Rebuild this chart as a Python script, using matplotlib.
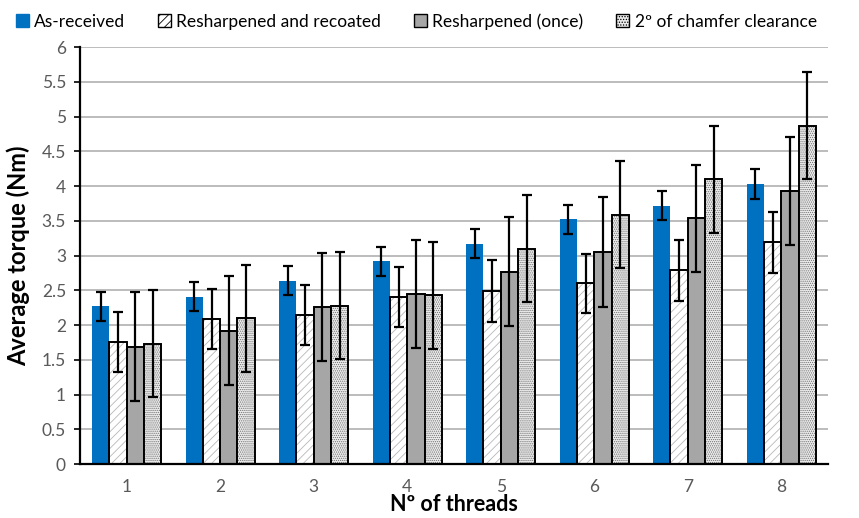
import numpy as np
import matplotlib
matplotlib.use("Agg")
import matplotlib.pyplot as plt
from matplotlib.patches import Patch

# ---- data ----
threads = ["1", "2", "3", "4", "5", "6", "7", "8"]
as_received = [2.27, 2.41, 2.64, 2.92, 3.17, 3.52, 3.72, 4.03]
as_received_err = [0.21, 0.21, 0.21, 0.21, 0.21, 0.21, 0.21, 0.21]
recoated = [1.76, 2.09, 2.15, 2.40, 2.49, 2.60, 2.79, 3.19]
recoated_err = [0.43, 0.43, 0.43, 0.43, 0.44, 0.43, 0.44, 0.44]
once = [1.69, 1.92, 2.26, 2.45, 2.77, 3.05, 3.54, 3.93]
once_err = [0.78, 0.78, 0.78, 0.78, 0.78, 0.79, 0.77, 0.78]
chamfer = [1.73, 2.10, 2.28, 2.43, 3.10, 3.59, 4.10, 4.87]
chamfer_err = [0.77, 0.77, 0.77, 0.77, 0.77, 0.77, 0.77, 0.77]

labels = ["As-received", "Resharpened and recoated", "Resharpened (once)", "2º of chamfer clearance"]

plt.rcParams["font.family"] = ["Lato", "DejaVu Sans"]
plt.rcParams["hatch.linewidth"] = 0.6

fig = plt.figure(figsize=(8.59, 5.18), dpi=100)
ax = fig.add_axes([0.093, 0.104, 0.871, 0.805])

x = np.arange(len(threads))
w = 0.185
offsets = np.array([-1.5, -0.5, 0.5, 1.5]) * w
ekw = dict(ecolor="black", elinewidth=1.6, capsize=3.5, capthick=1.6)

# As-received: solid blue
ax.bar(x + offsets[0], as_received, w, color="#0070c0", zorder=2,
       yerr=as_received_err, error_kw=ekw)

# Resharpened and recoated: white with light diagonal hatch
ax.bar(x + offsets[1], recoated, w, color="white", edgecolor="#b8b8b8",
       hatch="////", linewidth=0, zorder=2)
ax.bar(x + offsets[1], recoated, w, color="none", edgecolor="black",
       linewidth=1.4, zorder=3, yerr=recoated_err, error_kw=ekw)

# Resharpened (once): gray
ax.bar(x + offsets[2], once, w, color="#a6a6a6", edgecolor="black",
       linewidth=1.4, zorder=2, yerr=once_err, error_kw=ekw)

# 2º of chamfer clearance: dotted
ax.bar(x + offsets[3], chamfer, w, color="#ececec", edgecolor="#707070",
       hatch="........", linewidth=0, zorder=2)
ax.bar(x + offsets[3], chamfer, w, color="none", edgecolor="black",
       linewidth=1.4, zorder=3, yerr=chamfer_err, error_kw=ekw)

# legend proxies
handles = [
    Patch(facecolor="#0070c0", edgecolor="#0070c0"),
    Patch(facecolor="white", edgecolor="black", hatch="////", linewidth=1),
    Patch(facecolor="#a6a6a6", edgecolor="black", linewidth=1),
    Patch(facecolor="#ececec", edgecolor="black", hatch="......", linewidth=1),
]
fig.legend(handles, labels, loc="upper left", bbox_to_anchor=(0.0, 1.005),
           ncol=4, frameon=False, fontsize=12.5, handlelength=0.75,
           handleheight=0.75, handletextpad=0.3, columnspacing=1.9)

ax.set_ylim(0, 6)
ax.set_xlim(-0.5, len(threads) - 0.5)
ax.set_yticks(np.arange(0, 6.01, 0.5))
ax.set_yticklabels(["0", "0.5", "1", "1.5", "2", "2.5", "3", "3.5", "4", "4.5", "5", "5.5", "6"])
ax.set_xticks(x)
ax.set_xticklabels(threads)
ax.tick_params(axis="y", labelsize=12.5, labelcolor="#595959", color="black",
               length=4, width=1.2, direction="out", pad=6)
ax.tick_params(axis="x", labelsize=12.5, labelcolor="#595959", length=0, pad=11)
ax.yaxis.grid(True, color="#b0b0b0", linewidth=1.2, zorder=0)
ax.set_axisbelow(True)

for s in ["top", "right"]:
    ax.spines[s].set_visible(False)
ax.spines["left"].set_linewidth(1.6)
ax.spines["bottom"].set_linewidth(1.6)

ax.set_ylabel("Average torque (Nm)", fontsize=17, fontweight="bold", labelpad=8)
ax.set_xlabel("Nº of threads", fontsize=15.5, fontweight="bold", labelpad=-1)

fig.savefig("out.png", dpi=100)
